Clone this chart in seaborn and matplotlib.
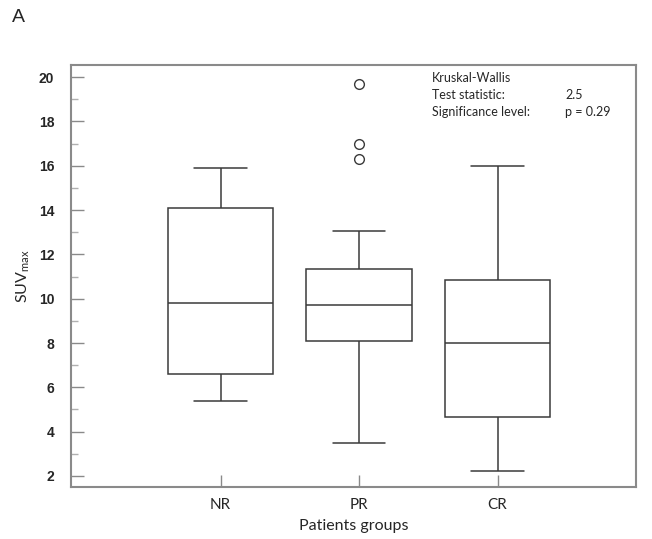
import matplotlib
matplotlib.use("Agg")
import matplotlib.pyplot as plt
import pandas as pd
import seaborn as sns
from matplotlib.ticker import MultipleLocator

# values
groups = ["NR", "PR", "CR"]
nr_values = [5.4, 6.6, 9.8, 14.1, 15.9]
pr_values = [3.5, 6.2, 7.3, 7.9, 8.1, 8.6, 9.0, 9.4, 9.7, 10.1, 10.6, 11.0,
             11.35, 13.05, 16.3, 17.0, 19.7]
cr_values = [2.2, 4.65, 8.0, 10.85, 16.0]
y_ticks = [2, 4, 6, 8, 10, 12, 14, 16, 18, 20]
stats_lines = ["Kruskal-Wallis", "Test statistic:", "Significance level:"]
stats_values = ["", "2.5", "p = 0.29"]

df = pd.concat([
    pd.DataFrame({"group": g, "suv": v})
    for g, v in zip(groups, [nr_values, pr_values, cr_values])
], ignore_index=True)

sns.set_style("white")
plt.rcParams["font.family"] = ["Lato", "DejaVu Sans"]
plt.rcParams["mathtext.default"] = "regular"

fig = plt.figure(figsize=(6.52, 5.39), dpi=100)
ax = fig.add_axes([71 / 652, 52 / 539, 565 / 652, 422 / 539])

line_col = "#3a3a3a"
sns.boxplot(
    data=df, x="group", y="suv", order=groups, ax=ax,
    width=0.76, color="white", linecolor=line_col, linewidth=1.1,
    flierprops=dict(marker="o", markerfacecolor="white",
                    markeredgecolor=line_col, markersize=7, markeredgewidth=1.0),
)

ax.set_xlim(-1.08, 3.0)
ax.set_ylim(1.5, 20.55)
ax.set_yticks(y_ticks)
ax.yaxis.set_minor_locator(MultipleLocator(1))

for side in ["left", "right", "top", "bottom"]:
    ax.spines[side].set_visible(True)
    ax.spines[side].set_color("#8a8a8a")
    ax.spines[side].set_linewidth(1.5)

ax.tick_params(axis="y", which="major", direction="in", length=9, width=1,
               color="#8a8a8a", pad=12, left=True, right=False)
ax.tick_params(axis="y", which="minor", direction="in", length=5, width=1,
               color="#b0b0b0", left=True, right=False)
ax.tick_params(axis="x", which="major", direction="in", length=9, width=1,
               color="#8a8a8a", pad=8, bottom=True, top=False, labelsize=11)

for lab in ax.get_yticklabels():
    lab.set_fontfamily("Liberation Sans")
    lab.set_fontweight("bold")
    lab.set_fontsize(10)

ax.set_xlabel("Patients groups", fontsize=11.5, labelpad=5)
ax.set_ylabel("SUV$_{max}$", fontsize=11.5, labelpad=5)

for i, (txt, val) in enumerate(zip(stats_lines, stats_values)):
    ypix = 539 - 78 - i * 17
    ax.annotate(txt, xy=(432, ypix), xycoords="figure pixels",
                fontsize=9, va="center", ha="left")
    if val:
        ax.annotate(val, xy=(565, ypix), xycoords="figure pixels",
                    fontsize=9, va="center", ha="left")

fig.text(12 / 652, 1 - 18 / 539, "A", fontsize=14, family="Liberation Sans",
         va="center", ha="left")

fig.savefig("out.png", dpi=100)
